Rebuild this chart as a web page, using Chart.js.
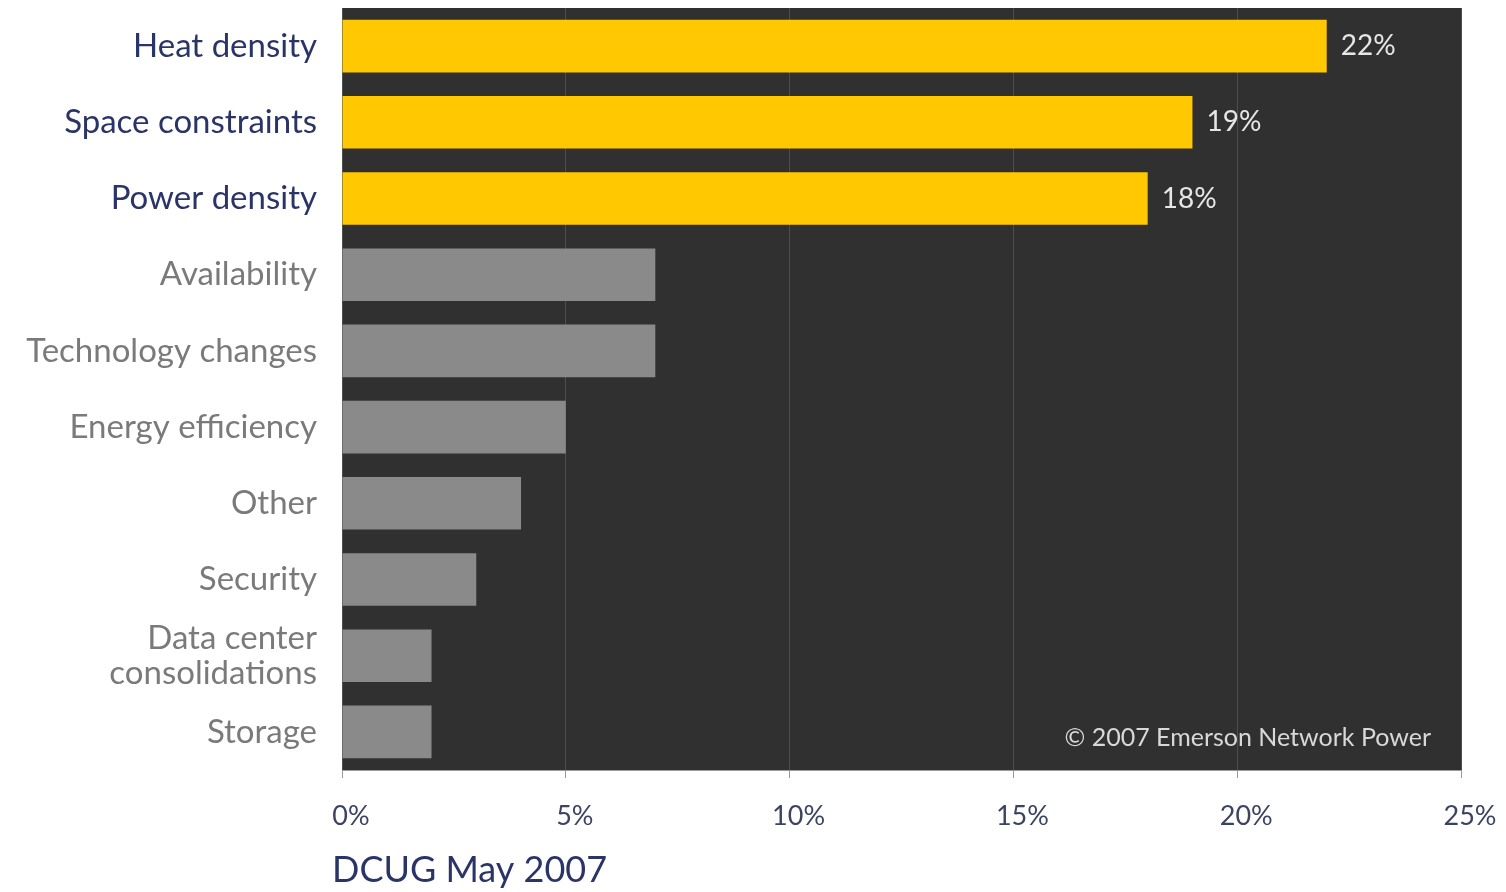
<!DOCTYPE html>
<html>
<head>
<meta charset="utf-8">
<script src="https://cdn.jsdelivr.net/npm/chart.js@4/dist/chart.umd.min.js"></script>
<style>
  html, body { margin: 0; padding: 0; background: #ffffff; }
  #wrap { width: 1506px; height: 892px; position: relative; }
</style>
</head>
<body>
<div id="wrap"><canvas id="c" width="1506" height="892"></canvas></div>
<script>
const categories = [
  'Heat density',
  'Space constraints',
  'Power density',
  'Availability',
  'Technology changes',
  'Energy efficiency',
  'Other',
  'Security',
  ['Data center', 'consolidations'],
  'Storage'
];
const values = [22, 19, 18, 7, 7, 5, 4, 3, 2, 2];
const highlighted = [true, true, true, false, false, false, false, false, false, false];
const xTicks = [0, 5, 10, 15, 20, 25];
const valueLabels = ['22%', '19%', '18%', '', '', '', '', '', '', ''];
const axisTitle = 'DCUG May 2007';
const sourceNote = '\u00A9 2007 Emerson Network Power';

const YELLOW = '#FFC800';
const GRAY = '#8A8A8A';
const NAVY = '#2B3467';
const LABELGRAY = '#7A7A7A';
const FONT = 'Lato';

const bgPlugin = {
  id: 'bg',
  beforeDraw(chart) {
    const { ctx, chartArea: a } = chart;
    ctx.save();
    ctx.fillStyle = '#303030';
    ctx.fillRect(a.left, a.top, a.right - a.left, a.bottom - a.top);
    ctx.restore();
  }
};

const textPlugin = {
  id: 'texts',
  afterDatasetsDraw(chart) {
    const { ctx, chartArea: a } = chart;
    const meta = chart.getDatasetMeta(0);
    ctx.save();
    ctx.font = '28px ' + FONT;
    ctx.fillStyle = '#E6E6E6';
    ctx.textAlign = 'left';
    ctx.textBaseline = 'middle';
    meta.data.forEach((bar, i) => {
      if (valueLabels[i]) ctx.fillText(valueLabels[i], bar.x + 14, bar.y);
    });
    ctx.font = '25px ' + FONT;
    ctx.fillStyle = '#D8D8D8';
    ctx.textAlign = 'right';
    ctx.fillText(sourceNote, a.right - 30, a.bottom - 32);
    ctx.font = '36px ' + FONT;
    ctx.fillStyle = NAVY;
    ctx.textAlign = 'left';
    ctx.fillText(axisTitle, a.left - 10, 870);
    ctx.restore();
  }
};

new Chart(document.getElementById('c'), {
  type: 'bar',
  data: {
    labels: categories,
    datasets: [{
      data: values,
      backgroundColor: values.map((v, i) => highlighted[i] ? YELLOW : GRAY),
      borderWidth: 0,
      categoryPercentage: 1.0,
      barPercentage: 0.69
    }]
  },
  options: {
    indexAxis: 'y',
    responsive: false,
    animation: false,
    layout: { padding: { top: 8, right: 45, left: 0, bottom: 0 } },
    plugins: { legend: { display: false }, tooltip: { enabled: false } },
    scales: {
      x: {
        min: 0, max: 25,
        afterBuildTicks(scale) { scale.ticks = xTicks.map(v => ({ value: v })); },
        afterFit(scale) {
          scale.height = 122;
          scale.paddingLeft = 0; scale.paddingRight = 0;
        },
        grid: {
          color: '#4E4E4E',
          lineWidth: 1,
          drawTicks: true,
          tickLength: 8,
          tickColor: '#9A9A9A'
        },
        border: { display: true, color: '#9A9A9A', width: 1 },
        ticks: {
          callback: v => v + '%',
          font: { family: FONT, size: 27 },
          color: '#3C4262',
          padding: 22,
          labelOffset: 9,
          maxRotation: 0,
          autoSkip: false
        }
      },
      y: {
        afterFit(scale) {
          scale.width = 342;
          scale.paddingTop = 0; scale.paddingBottom = 0;
        },
        grid: { display: false, drawTicks: false },
        border: { display: false },
        ticks: {
          font: { family: FONT, size: 33, lineHeight: 1.05 },
          color: ctx => highlighted[ctx.index] ? NAVY : LABELGRAY,
          padding: 25,
          autoSkip: false,
          crossAlign: 'near'
        }
      }
    }
  },
  plugins: [bgPlugin, textPlugin]
});
</script>
</body>
</html>
